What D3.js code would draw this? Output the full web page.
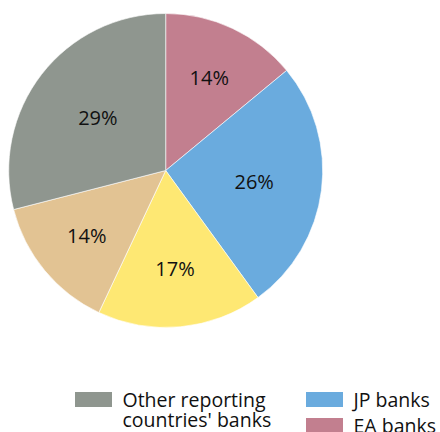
<!DOCTYPE html>
<html>
<head>
<meta charset="utf-8">
<script src="https://cdn.jsdelivr.net/npm/d3@7"></script>
<style>
  body { margin: 0; background: #fff; }
  svg { display: block; }
  text { font-family: "Open Sans", "Noto Sans", sans-serif; fill: #111; }
</style>
</head>
<body>
<div id="chart"></div>
<script>
// slice order, clockwise from 12 o'clock
var categories = ["EA banks", "JP banks", "US banks", "UK banks", "Other reporting countries' banks"];
var shares = [14, 26, 17, 14, 29];
var colours = ["#c27f8f", "#6aabde", "#fee873", "#e2c393", "#8f968f"];
// legend entries visible in the picture, in their order
var legendOrder = ["Other reporting countries' banks", "JP banks", "EA banks"];

var width = 440;
var height = 432;
var cx = 165.7, cy = 170.5, radius = 157;

var svg = d3.select("#chart")
    .append("svg")
    .attr("width", width)
    .attr("height", height);

var data = categories.map(function(c, i) {
    return { name: c, value: shares[i], colour: colours[i] };
});

var pie = d3.pie()
    .sort(null)
    .value(d => d.value);

var arc = d3.arc()
    .innerRadius(0)
    .outerRadius(radius);

var pieGroup = svg.append("g")
  .attr("transform", `translate(${cx}, ${cy})`);

var arcs = pie(data);

pieGroup.selectAll("path")
    .data(arcs)
    .enter()
    .append("path")
    .attr("d", arc)
    .attr("fill", d => d.data.colour)
    .attr("stroke", "#fff")
    .attr("stroke-width", 0.6);

// best-fit style: narrow slices push the label further out
var total = d3.sum(shares);
pieGroup.selectAll("text")
    .data(arcs)
    .enter()
    .append("text")
    .attr("transform", function(d) {
        var frac = d.data.value / total;
        var r = radius * (0.75 - 0.7 * frac);
        var a = (d.startAngle + d.endAngle) / 2;
        return `translate(${r * Math.sin(a)}, ${-r * Math.cos(a)})`;
    })
    .attr("text-anchor", "middle")
    .attr("dy", "0.36em")
    .attr("font-size", 20)
    .text(d => d.data.value + "%");

// legend: two columns
var legendItems = legendOrder.map(function(name) {
    var i = categories.indexOf(name);
    return { name: name, colour: colours[i] };
});
var colX = [75, 306];
var legend = svg.append("g");

var slots = [
    { col: 0, row: 0 },
    { col: 1, row: 0 },
    { col: 1, row: 1 }
];

legendItems.forEach(function(item, i) {
    var s = slots[i];
    var y = 392 + s.row * 26;
    var g = legend.append("g")
        .attr("transform", `translate(${colX[s.col]}, ${y})`);
    g.append("rect")
        .attr("width", 37)
        .attr("height", 15)
        .attr("fill", item.colour);
    var lines = item.name === "Other reporting countries' banks"
        ? ["Other reporting", "countries' banks"] : [item.name];
    lines.forEach(function(w, j) {
        g.append("text")
            .attr("x", 47.5)
            .attr("y", 14.7 + j * 20.7)
            .attr("font-size", 19.5)
            .text(w);
    });
});
</script>
</body>
</html>
